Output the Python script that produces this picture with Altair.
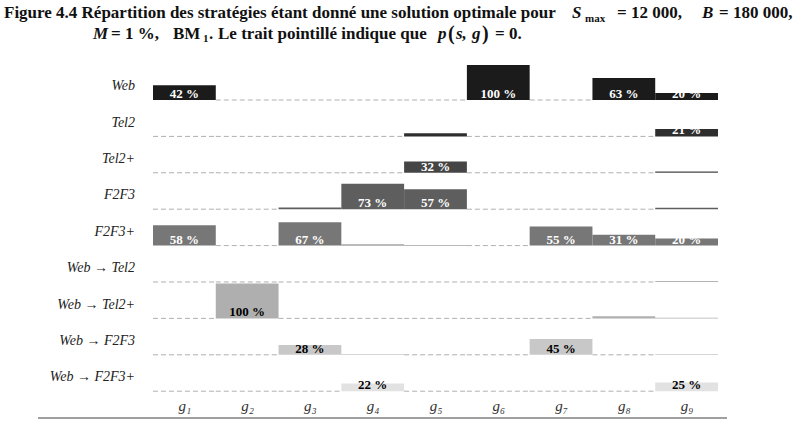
import altair as alt
import pandas as pd

# Strategies (rows, top to bottom) and groups (columns)
strategies = ["Web", "Tel2", "Tel2+", "F2F3", "F2F3+",
              "Web → Tel2", "Web → Tel2+", "Web → F2F3", "Web → F2F3+"]
groups = ["g1", "g2", "g3", "g4", "g5", "g6", "g7", "g8", "g9"]
group_subscripts = ["₁", "₂", "₃", "₄", "₅", "₆", "₇", "₈", "₉"]

# p(s, g) in percent, one list per strategy, one value per group
p_web = [42, 0, 0, 0, 0, 100, 0, 63, 20]
p_tel2 = [0, 0, 0, 0, 9, 0, 0, 0, 21]
p_tel2p = [0, 0, 0, 0, 32, 0, 0, 0, 4]
p_f2f3 = [0, 0, 5, 73, 57, 0, 0, 0, 4]
p_f2f3p = [58, 0, 67, 3, 2, 0, 55, 31, 20]
p_web_tel2 = [0, 0, 0, 0, 0, 0, 0, 0, 2]
p_web_tel2p = [0, 100, 0, 0, 0, 0, 0, 6, 2]
p_web_f2f3 = [0, 0, 28, 2, 0, 0, 45, 0, 2]
p_web_f2f3p = [0, 0, 0, 22, 0, 0, 0, 0, 25]

shares = [p_web, p_tel2, p_tel2p, p_f2f3, p_f2f3p,
          p_web_tel2, p_web_tel2p, p_web_f2f3, p_web_f2f3p]

fill_colors = ["#1b1b1b", "#2e2e2e", "#454545", "#5e5e5e", "#777777",
               "#9a9a9a", "#afafaf", "#c8c8c8", "#e2e2e2"]
label_colors = ["white", "white", "white", "white", "white",
                "black", "black", "black", "black"]

BAR_SCALE = 0.96      # height of a 100 % bar, in row units
LABEL_MIN = 20        # smallest share that gets a printed value

records = []
for i, (name, vals) in enumerate(zip(strategies, shares)):
    level = len(strategies) - 1 - i
    for j, v in enumerate(vals):
        records.append({
            "strategy": name,
            "level": level,
            "col": j,
            "col_end": j + 1,
            "mid": j + 0.5,
            "p": v,
            "top": level + BAR_SCALE * v / 100,
            "label": f"{v} %",
            "label_color": label_colors[i],
        })
df = pd.DataFrame(records)

row_df = pd.DataFrame({
    "strategy": strategies,
    "level": [len(strategies) - 1 - i + 0.38 for i in range(len(strategies))],
})

x_scale = alt.Scale(domain=[0, 9], nice=False, zero=False)
y_scale = alt.Scale(domain=[-0.2418, 9.236], nice=False, zero=False)
SERIF = "Liberation Serif"

x_axis = alt.Axis(
    values=[j + 0.5 for j in range(len(groups))],
    labelExpr="'g' + " + str(group_subscripts).replace('"', "'") + "[floor(datum.value)]",
    domain=False, ticks=False, grid=False, title=None,
    labelFont=SERIF, labelFontStyle="italic", labelFontSize=15,
    labelColor="#333333", labelPadding=-2,
)

base = alt.Chart(df)

zero_lines = base.transform_filter("datum.p == 0").mark_rule(
    color="#b0b0b0", strokeDash=[5, 3], strokeWidth=1
).encode(
    x=alt.X("col:Q", scale=x_scale, axis=x_axis),
    x2="col_end:Q",
    y=alt.Y("level:Q", scale=y_scale, axis=None),
)

bars = base.transform_filter("datum.p > 0").mark_rect().encode(
    x=alt.X("col:Q", scale=x_scale, axis=x_axis),
    x2="col_end:Q",
    y=alt.Y("level:Q", scale=y_scale, axis=None),
    y2="top:Q",
    color=alt.Color("strategy:N", scale=alt.Scale(domain=strategies, range=fill_colors), legend=None),
)

values = base.transform_filter(f"datum.p >= {LABEL_MIN}").mark_text(
    font=SERIF, fontWeight="bold", fontSize=13, baseline="bottom", dy=1
).encode(
    x=alt.X("mid:Q", scale=x_scale),
    y=alt.Y("level:Q", scale=y_scale),
    text="label:N",
    color=alt.Color("label_color:N", scale=None),
)

row_labels = alt.Chart(row_df).mark_text(
    font=SERIF, fontStyle="italic", fontSize=14, align="right", baseline="middle", color="#222222"
).encode(
    x=alt.value(-18),
    y=alt.Y("level:Q", scale=y_scale),
    text="strategy:N",
)

bottom_rule = alt.Chart(pd.DataFrame({"k": [0]})).mark_rule(
    color="#a0a0a0", strokeWidth=2
).encode(x=alt.value(-115), x2=alt.value(574), y=alt.value(363))

# Caption pieces: (text, x, y, size, italic)
caption = [
    ("Figure 4.4 Répartition des stratégies étant donné une solution optimale pour", -149, -37, 17, False),
    ("S", 419, -37, 17, True),
    ("max", 432, -33, 11, False),
    ("= 12 000,", 464, -37, 17, False),
    ("B", 549, -37, 17, True),
    ("= 180 000,", 566, -37, 17, False),
    ("M", -60, -16, 17, True),
    ("= 1 %,", -42, -16, 17, False),
    ("BM", 20, -16, 17, False),
    ("1", 50, -13, 11, False),
    (".", 56, -16, 17, False),
    ("Le trait pointillé indique que", 65, -16, 17, False),
    ("p", 285, -16, 17, True),
    ("(", 295, -15, 20, False),
    ("s,", 303, -16, 17, True),
    ("g", 319, -16, 17, True),
    (")", 329, -15, 20, False),
    ("= 0.", 342, -16, 17, False),
]
caption_layers = []
for text, cx, cy, size, italic in caption:
    props = dict(text=text, font=SERIF, fontWeight="bold", fontSize=size,
                 align="left", baseline="alphabetic", color="#111111")
    if italic:
        props["fontStyle"] = "italic"
    caption_layers.append(
        alt.Chart(pd.DataFrame({"k": [0]})).mark_text(**props).encode(
            x=alt.value(cx), y=alt.value(cy)
        )
    )

chart = alt.layer(
    zero_lines, bars, values, row_labels, bottom_rule, *caption_layers
).properties(
    width=565, height=345,
    autosize=alt.AutoSizeParams(type="none"),
    padding={"left": 153, "top": 55, "right": 78, "bottom": 27},
).configure_view(stroke=None)

chart.save("out.html", embed_options={"renderer": "svg", "actions": False})
